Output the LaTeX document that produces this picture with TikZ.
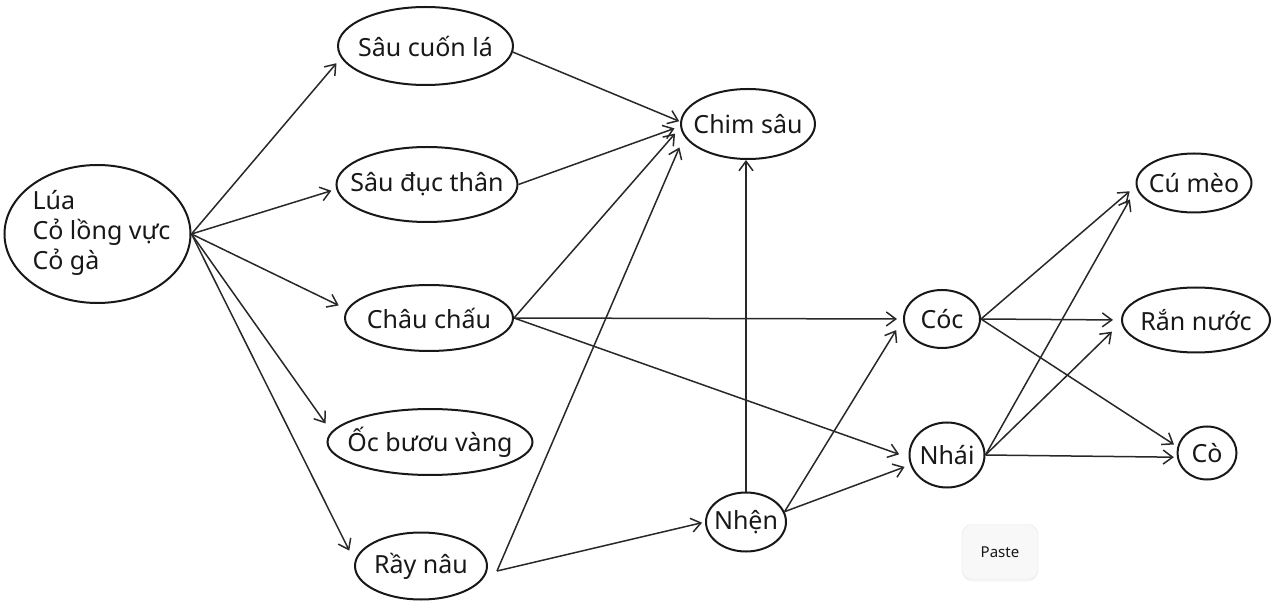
\documentclass[tikz,border=0pt]{standalone}
\usepackage{fontspec}
\setmainfont{Noto Sans}
\usepackage{tikz}
\usetikzlibrary{arrows.meta,shapes,positioning,shadows}
\usepackage{xcolor}
\definecolor{fwink}{RGB}{24,24,24}
\definecolor{fwline}{RGB}{40,40,40}
\definecolor{fwpaste}{RGB}{248,248,248}
\definecolor{fwpasteedge}{RGB}{230,230,230}
\tikzstyle{arrow} = [line width=1.5pt,-{Straight Barb[length=9.5pt,width=14pt,line width=1.5pt]},color=fwline]
\tikzstyle{organism} = [ellipse, draw=fwink, line width=2pt, inner sep=0pt, text=fwink, font=\fontsize{25}{30}\selectfont]
\newcommand{\orgname}[1]{\makebox[0pt]{#1}}

\begin{document}
\begin{tikzpicture}[x=1pt,y=-1pt]
\useasboundingbox (0,0) rectangle (1272,601);

% Producers
\node[organism, minimum width=186pt, minimum height=138pt] (lua) at (97.5,234) {\makebox[0pt]{\hspace*{8pt}\begin{tabular}{@{}l@{}}Lúa\\Cỏ lồng vực\\Cỏ gà\end{tabular}}};

% Herbivores
\node[organism, minimum width=175pt, minimum height=78pt] (sau1) at (425.5,46) {\orgname{Sâu cuốn lá}};
\node[organism, minimum width=181pt, minimum height=75pt] (sau2) at (427,184.5) {\orgname{Sâu đục thân}};
\node[organism, minimum width=168pt, minimum height=66pt] (chau) at (429,318) {\orgname{Châu chấu}};
\node[organism, minimum width=205pt, minimum height=66pt] (oc) at (430,442) {\orgname{Ốc bươu vàng}};
\node[organism, minimum width=132pt, minimum height=67pt] (ray) at (421,566) {\orgname{Rầy nâu}};

% Small predators
\node[organism, minimum width=134pt, minimum height=70pt] (chim) at (748,124) {\orgname{Chim sâu}};
\node[organism, minimum width=80pt, minimum height=59pt] (nhen) at (746,522) {\orgname{Nhện}};
\node[organism, minimum width=76pt, minimum height=58pt] (coc) at (942,319) {\orgname{Cóc}};
\node[organism, minimum width=75pt, minimum height=65pt] (nhai) at (947,455) {\orgname{Nhái}};

% Top predators
\node[organism, minimum width=115pt, minimum height=59pt] (cu) at (1194,183) {\orgname{Cú mèo}};
\node[organism, minimum width=148pt, minimum height=65pt] (ran) at (1196,320) {\orgname{Rắn nước}};
\node[organism, minimum width=59pt, minimum height=53pt] (co) at (1207,453) {\orgname{Cò}};

% Paste button
\node[draw=fwpasteedge, fill=fwpaste, rounded corners=10pt, minimum width=76pt, minimum height=55pt, drop shadow={opacity=0.08,shadow xshift=0pt,shadow yshift=-2pt}, text=fwink, font=\fontsize{15}{17}\selectfont] (paste) at (1000,552) {Paste};

\draw[arrow, shorten >=7pt] (lua.east) -- (sau1.188);
\draw[arrow, shorten >=5pt] (lua.east) -- (sau2.183);
\draw[arrow, shorten >=9pt] (lua.east) -- (chau.174);
\draw[arrow, shorten >=10pt] (lua.east) -- (oc.174);
\draw[arrow, shorten >=12pt] (lua.east) -- (ray.176);

\draw[arrow, shorten >=1pt] (sau1.-4) -- (chim.178);
\draw[arrow, shorten >=6pt] (sau2.east) -- (chim.182);
\draw[arrow, shorten >=8pt] (chau.east) -- (chim.183);
\draw[arrow, shorten >=12pt] ([xshift=9pt,yshift=-5pt]ray.east) -- (chim.191);
\draw[arrow] (nhen.north) -- (nhen.north |- chim.south);

\draw[arrow, shorten >=6pt] (chau.east) -- (coc.west);
\draw[arrow, shorten >=10pt] (chau.east) -- (nhai.184);
\draw[arrow, shorten >=3pt] ([xshift=9pt,yshift=-5pt]ray.east) -- (nhen.west);
\draw[arrow, shorten >=13pt] (nhen.15) -- (coc.west);
\draw[arrow, shorten >=6pt] (nhen.15) -- (nhai.195);

\draw[arrow, shorten >=8pt] (coc.east) -- (cu.183);
\draw[arrow, shorten >=8pt] (coc.east) -- (ran.west);
\draw[arrow, shorten >=4pt] (coc.east) -- (co.168);
\draw[arrow, shorten >=13pt] (nhai.east) -- (cu.185);
\draw[arrow, shorten >=13pt] (nhai.east) -- (ran.182);
\draw[arrow, shorten >=3pt] (nhai.east) -- (co.188);
\end{tikzpicture}
\end{document}
